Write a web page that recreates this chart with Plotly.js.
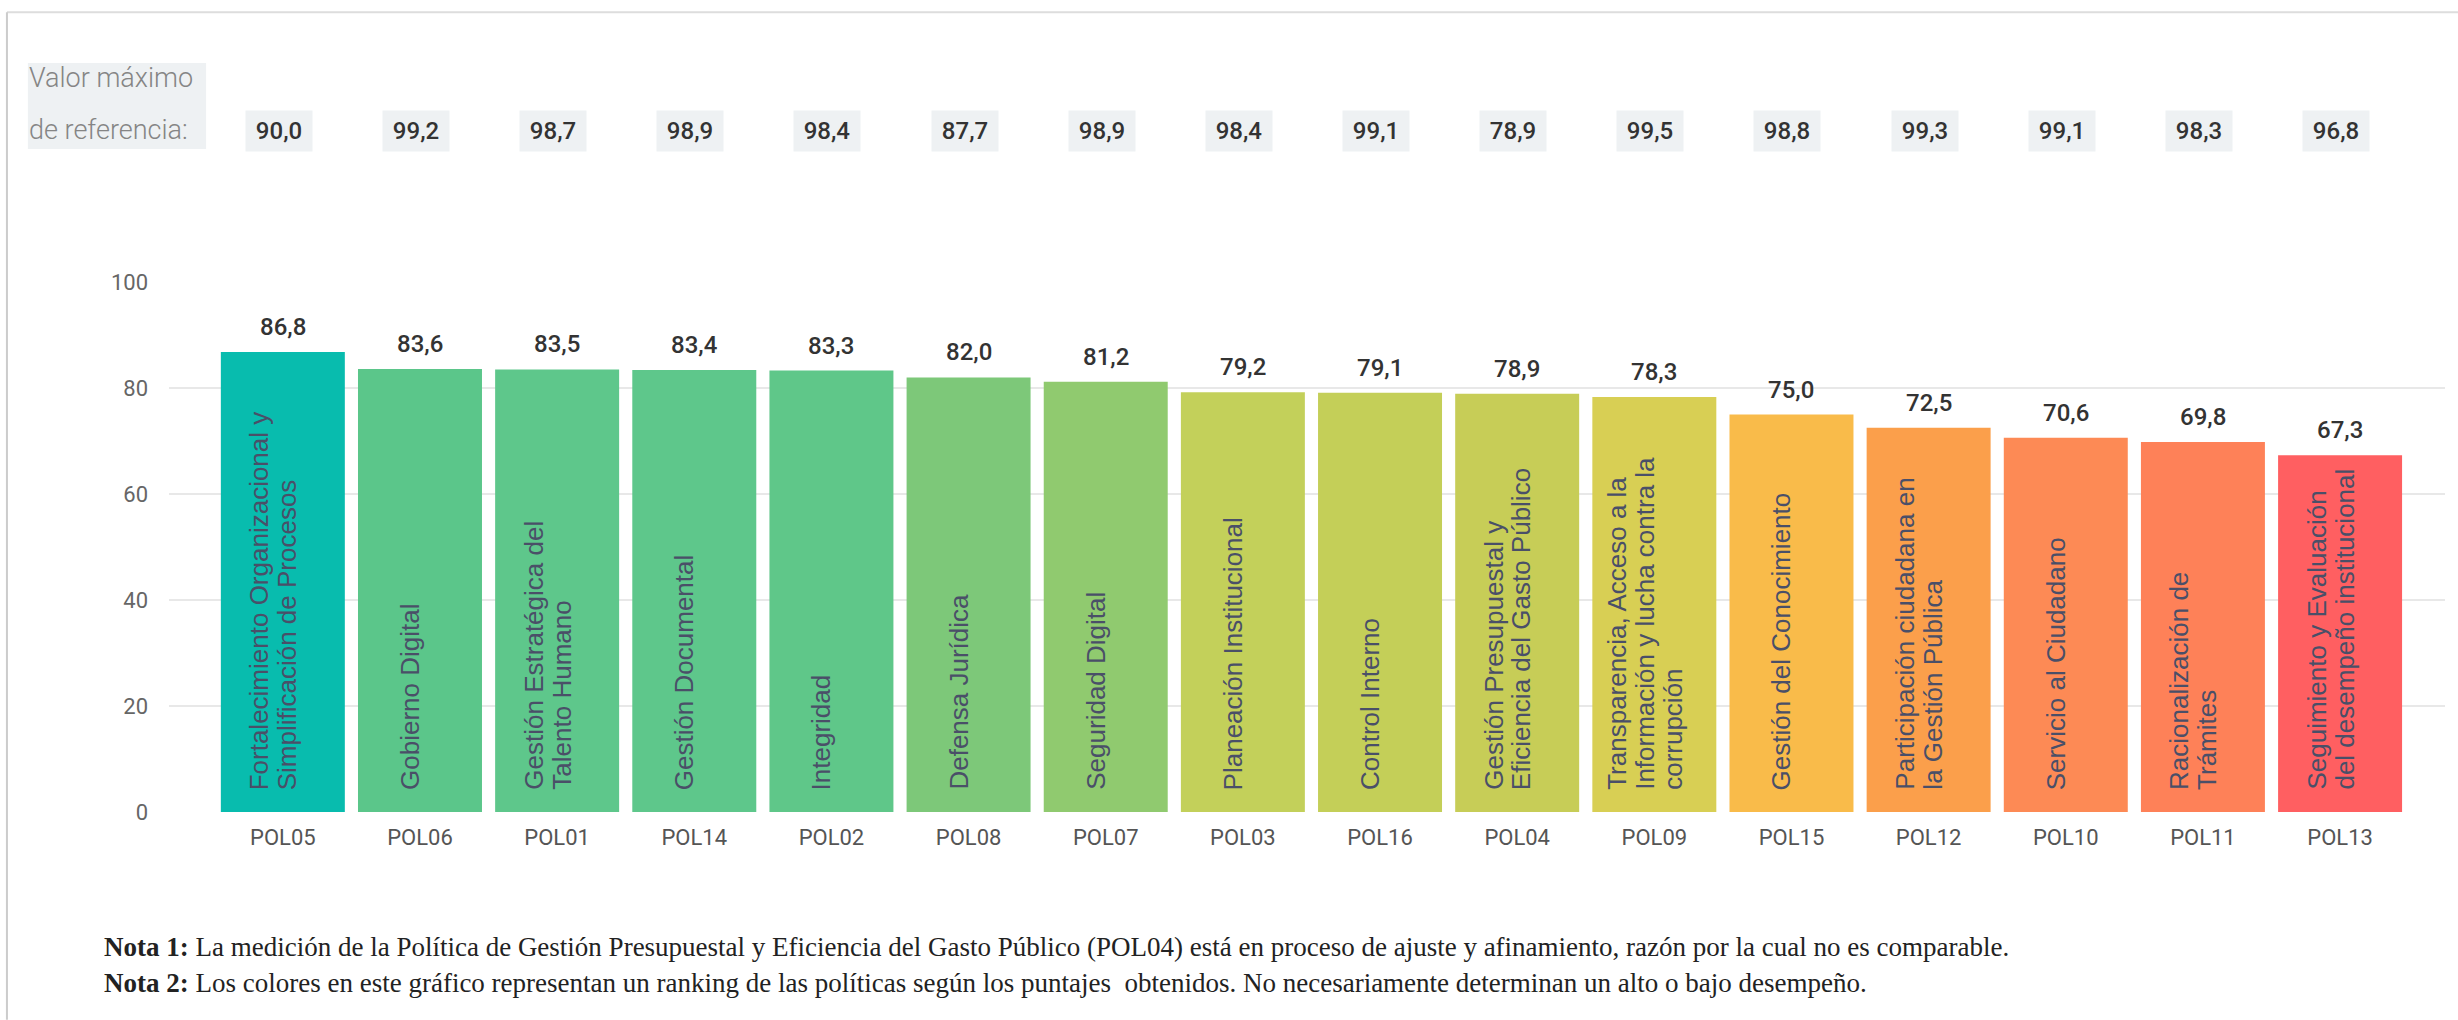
<!DOCTYPE html>
<html>
<head>
<meta charset="utf-8">
<script src="https://cdn.plot.ly/plotly-3.0.1.min.js"></script>
<style>
  html, body { margin: 0; padding: 0; background: #ffffff; }
  #chart { width: 2458px; height: 1020px; }
</style>
</head>
<body>
<div id="chart"></div>
<script>
// ---- Data ----
const codes = ["POL05","POL06","POL01","POL14","POL02","POL08","POL07","POL03","POL16","POL04","POL09","POL15","POL12","POL10","POL11","POL13"];
const names = [
  ["Fortalecimiento Organizacional y", "Simplificación de Procesos"],
  ["Gobierno Digital"],
  ["Gestión Estratégica del", "Talento Humano"],
  ["Gestión Documental"],
  ["Integridad"],
  ["Defensa Jurídica"],
  ["Seguridad Digital"],
  ["Planeación Institucional"],
  ["Control Interno"],
  ["Gestión Presupuestal y", "Eficiencia del Gasto Público"],
  ["Transparencia, Acceso a la", "Información y lucha contra la", "corrupción"],
  ["Gestión del Conocimiento"],
  ["Participación ciudadana en", "la Gestión Pública"],
  ["Servicio al Ciudadano"],
  ["Racionalización de", "Trámites"],
  ["Seguimiento y Evaluación", "del desempeño institucional"]
];
const scores = [86.8, 83.6, 83.5, 83.4, 83.3, 82.0, 81.2, 79.2, 79.1, 78.9, 78.3, 75.0, 72.5, 70.6, 69.8, 67.3];
const refMax = [90.0, 99.2, 98.7, 98.9, 98.4, 87.7, 98.9, 98.4, 99.1, 78.9, 99.5, 98.8, 99.3, 99.1, 98.3, 96.8];
const barColors = ["#08bcae","#5bc68a","#5ec78b","#5ec78b","#5fc789","#7dc879","#90ca6f","#c3d05a","#c4cf58","#c7cd57","#d8cf54","#f9bb4a","#fb9f4b","#fd8a55","#fe8158","#ff5f61"];
const refLabel = ["Valor máximo", "de referencia:"];
const notes = [
  "<b>Nota 1:</b> La medición de la Política de Gestión Presupuestal y Eficiencia del Gasto Público (POL04) está en proceso de ajuste y afinamiento, razón por la cual no es comparable.",
  "<b>Nota 2:</b> Los colores en este gráfico representan un ranking de las políticas según los puntajes  obtenidos. No necesariamente determinan un alto o bajo desempeño."
];
const yTicks = [0, 20, 40, 60, 80, 100];

const fmt = v => v.toFixed(1).replace('.', ',');
const idx = codes.map((c, i) => i);

// ---- Traces ----
const bars = {
  type: 'bar',
  x: idx,
  y: scores,
  marker: { color: barColors, line: { width: 0 } },
  hoverinfo: 'skip',
  showlegend: false
};

// ---- Annotations ----
const annotations = [];
// value labels above bars
scores.forEach((v, i) => {
  annotations.push({
    xref: 'x', yref: 'y', x: i, y: v, yanchor: 'bottom', xanchor: 'center',
    yshift: 9, showarrow: false, text: fmt(v),
    font: { family: 'Roboto, sans-serif', size: 24, weight: 500, color: '#333333' }
  });
});
// rotated policy names inside bars (one annotation per line)
const lineGap = 28;
names.forEach((lines, i) => {
  lines.forEach((ln, k) => {
    annotations.push({
      xref: 'x', yref: 'y', x: i, y: 0, yanchor: 'bottom', xanchor: 'center',
      yshift: 20, xshift: -10 + (k - (lines.length - 1) / 2) * lineGap,
      textangle: -90, showarrow: false, text: ln,
      font: { family: '"Liberation Sans", Arial, sans-serif', size: 26, color: '#4a4f68' }
    });
  });
});
// reference max values row
refMax.forEach((v, i) => {
  annotations.push({
    xref: 'x', yref: 'paper', x: i, y: 1.285, yanchor: 'middle', xanchor: 'center',
    xshift: -4, showarrow: false, text: fmt(v), bgcolor: '#eef1f3',
    width: 64, height: 38,
    font: { family: 'Roboto, sans-serif', size: 24, weight: 500, color: '#333333' }
  });
});
// reference label
annotations.push({
  xref: 'paper', yref: 'paper', x: -0.0625, y: 1.385, xanchor: 'left', yanchor: 'middle',
  showarrow: false, text: refLabel[0],
  font: { family: 'Roboto, sans-serif', size: 27, weight: 300, color: '#858585' }
});
annotations.push({
  xref: 'paper', yref: 'paper', x: -0.0625, y: 1.287, xanchor: 'left', yanchor: 'middle',
  showarrow: false, text: refLabel[1],
  font: { family: 'Roboto, sans-serif', size: 27, weight: 300, color: '#858585' }
});
// notes
notes.forEach((t, i) => {
  annotations.push({
    xref: 'paper', yref: 'paper', x: -0.0294, y: i === 0 ? -0.2547 : -0.3226,
    xanchor: 'left', yanchor: 'middle', showarrow: false, text: t, align: 'left',
    font: { family: 'Liberation Serif', size: 27, color: '#222222' }
  });
});

const layout = {
  width: 2458,
  height: 1020,
  paper_bgcolor: '#ffffff',
  plot_bgcolor: '#ffffff',
  separators: ',.',
  margin: { l: 169, r: 13, t: 282, b: 208, pad: 0 },
  bargap: 0.096,
  showlegend: false,
  xaxis: {
    type: 'linear',
    range: [-0.83, 15.765],
    tickmode: 'array',
    tickvals: idx,
    ticktext: codes,
    showgrid: false,
    zeroline: false,
    showline: false,
    ticks: '',
    ticklabelstandoff: 10,
    tickfont: { family: 'Roboto, sans-serif', size: 22, color: '#555555' }
  },
  yaxis: {
    range: [0, 100],
    tickmode: 'array',
    tickvals: yTicks,
    ticktext: yTicks.map(String),
    showgrid: true,
    gridcolor: '#e8e8e8',
    gridwidth: 1.5,
    zeroline: false,
    showline: false,
    ticks: '',
    ticklabelstandoff: 20,
    tickfont: { family: 'Roboto, sans-serif', size: 22, color: '#666666' }
  },
  shapes: [
    // reference label background
    { type: 'rect', xref: 'paper', yref: 'paper', x0: -0.062, x1: 0.0163, y0: 1.251, y1: 1.413,
      fillcolor: '#eef1f3', line: { width: 0 }, layer: 'below' },
    // frame lines
    { type: 'line', xref: 'paper', yref: 'paper', x0: -0.0712, x1: 1.0057, y0: 1.509, y1: 1.509,
      line: { color: '#dddddd', width: 2 } },
    { type: 'line', xref: 'paper', yref: 'paper', x0: -0.0712, x1: -0.0712, y0: 1.509, y1: -0.392,
      line: { color: '#cccccc', width: 2 } }
  ],
  annotations: annotations
};

Plotly.newPlot('chart', [bars], layout, { displayModeBar: false, staticPlot: true });
</script>
</body>
</html>
